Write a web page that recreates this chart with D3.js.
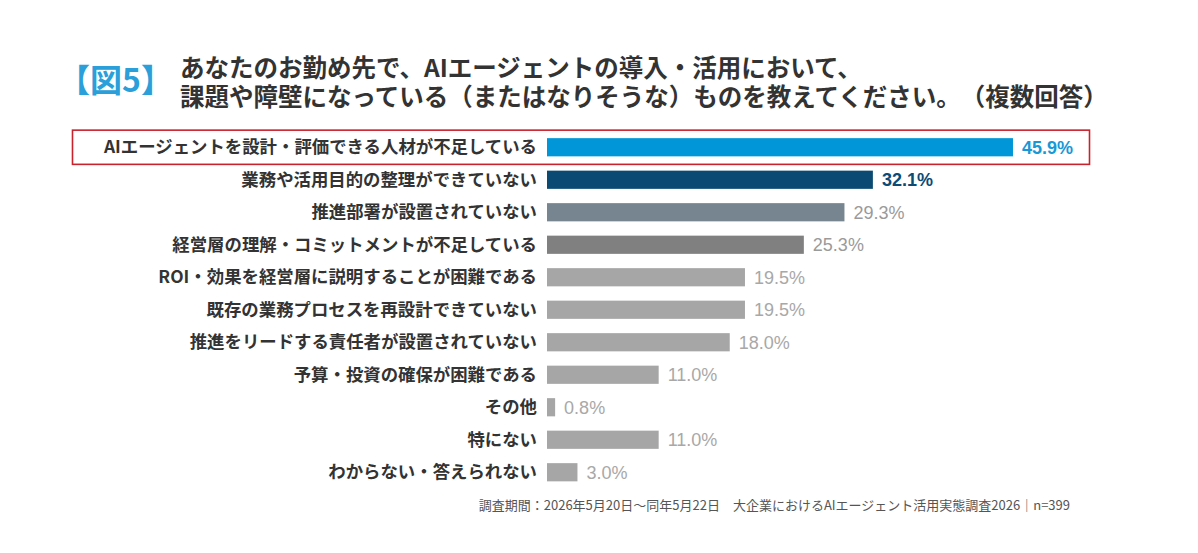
<html>
<head>
<style>
    body { margin: 0; background: #fff; }
    svg text { text-spacing-trim: space-all; }
    .lbl { font-family: "Noto Sans CJK JP", sans-serif; font-weight: bold; font-size: 17.4px; fill: #333; }
    .val { font-family: "Liberation Sans", Arial, sans-serif; font-size: 18px; }
</style>
</head>
<body>
<svg id="chart" width="1198" height="553"></svg>

<script src="https://d3js.org/d3.v7.min.js"></script>
<script>
    const categories = [
        "AIエージェントを設計・評価できる人材が不足している",
        "業務や活用目的の整理ができていない",
        "推進部署が設置されていない",
        "経営層の理解・コミットメントが不足している",
        "ROI・効果を経営層に説明することが困難である",
        "既存の業務プロセスを再設計できていない",
        "推進をリードする責任者が設置されていない",
        "予算・投資の確保が困難である",
        "その他",
        "特にない",
        "わからない・答えられない"
    ]
    const values = [45.9, 32.1, 29.3, 25.3, 19.5, 19.5, 18.0, 11.0, 0.8, 11.0, 3.0]
    const barColors = ["#0096d8", "#0b4a73", "#76858f", "#808080", "#a6a6a6", "#a6a6a6", "#a6a6a6", "#a6a6a6", "#a6a6a6", "#a6a6a6", "#a6a6a6"]
    const valueColors = ["#1a98d5", "#0d4a74", "#9a9a9a", "#9a9a9a", "#a8a8a8", "#a8a8a8", "#a8a8a8", "#a8a8a8", "#a8a8a8", "#a8a8a8", "#a8a8a8"]

    const titleLines = [
        "あなたのお勤め先で、AIエージェントの導入・活用において、",
        "課題や障壁になっている（またはなりそうな）ものを教えてください。（複数回答）"
    ]
    const footnote = "調査期間：2026年5月20日～同年5月22日　大企業におけるAIエージェント活用実態調査2026｜n=399"

    const svg = d3.select("#chart")

    // title
    svg.append("text")
        .attr("x", 58).attr("y", 92)
        .style("font-family", "Noto Sans CJK JP").style("font-weight", "bold")
        .style("font-size", "32px").style("fill", "#2a9fd9")
        .text("【図5】")

    // both title lines in one text element
    svg.append("text")
        .style("font-family", "Noto Sans CJK JP").style("font-weight", "bold")
        .style("font-size", "24.5px").style("fill", "#333")
        .selectAll("tspan").data(titleLines).enter().append("tspan")
        .attr("x", 180)
        .attr("y", (d, i) => 77 + i * 29)
        .text(d => d)

    let xScale = d3.scaleLinear()
        .domain([0, 50])
        .range([547, 1054.6])

    let yScale = d3.scaleBand()
        .domain(categories)
        .range([131, 488.5])
        .paddingInner(0.44)
        .paddingOuter(0.22)

    // highlight box around first row
    svg.append("rect")
        .attr("x", 72.5).attr("y", yScale(categories[0]) - 8)
        .attr("width", 1017).attr("height", yScale.bandwidth() + 16)
        .attr("fill", "none").attr("stroke", "#c8232c").attr("stroke-width", 1.6)

    svg.selectAll(".bar").data(values).enter().append("rect")
        .attr("class", "bar")
        .attr("x", xScale(0))
        .attr("y", (d, i) => yScale(categories[i]))
        .attr("width", d => xScale(d) - xScale(0))
        .attr("height", yScale.bandwidth())
        .attr("fill", (d, i) => barColors[i])

    svg.selectAll(".lbl").data(categories).enter().append("text")
        .attr("class", "lbl")
        .attr("x", 537)
        .attr("y", d => yScale(d) + yScale.bandwidth() / 2)
        .attr("dy", "0.35em")
        .attr("text-anchor", "end")
        .text(d => d)

    svg.selectAll(".val").data(values).enter().append("text")
        .attr("class", "val")
        .attr("x", d => xScale(d) + 9)
        .attr("y", (d, i) => yScale(categories[i]) + yScale.bandwidth() / 2)
        .attr("dy", "0.36em")
        .style("fill", (d, i) => valueColors[i])
        .style("font-weight", (d, i) => i < 2 ? "bold" : "normal")
        .text(d => d.toFixed(1) + "%")

    svg.append("text")
        .attr("x", 1070).attr("y", 510)
        .attr("text-anchor", "end")
        .style("font-family", "Noto Sans CJK JP").style("font-size", "13px").style("fill", "#555")
        .text(footnote)
</script>
</body>
</html>
